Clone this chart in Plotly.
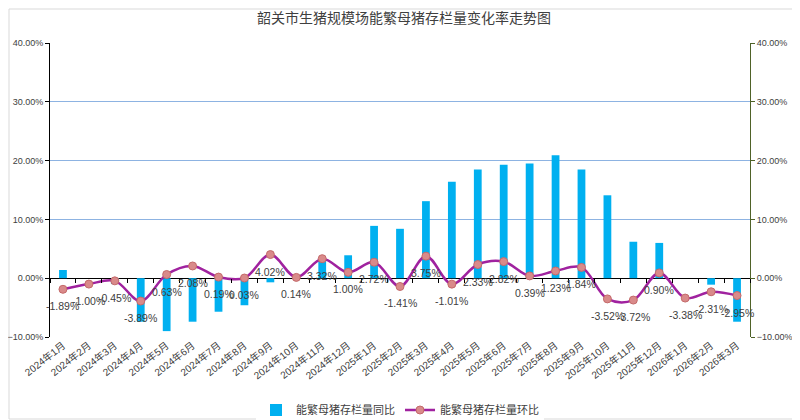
import plotly.graph_objects as go

months = ["2024年1月", "2024年2月", "2024年3月", "2024年4月", "2024年5月", "2024年6月",
          "2024年7月", "2024年8月", "2024年9月", "2024年10月", "2024年11月", "2024年12月",
          "2025年1月", "2025年2月", "2025年3月", "2025年4月", "2025年5月", "2025年6月",
          "2025年7月", "2025年8月", "2025年9月", "2025年10月", "2025年11月", "2025年12月",
          "2026年1月", "2026年2月", "2026年3月"]

# 同比 (bars)
yoy = [1.4, 0.0, -1.0, -7.4, -9.0, -7.4, -5.7, -4.6, -0.7, 0.0, 3.3, 3.9,
       8.9, 8.4, 13.1, 16.4, 18.5, 19.3, 19.5, 20.9, 18.5, 14.1, 6.2, 6.0,
       0.0, -1.1, -7.4]

# 环比 (line, from the data labels)
mom = [-1.89, -1.00, -0.45, -3.89, 0.63, 2.08, 0.19, 0.03, 4.02, 0.14, 3.32, 1.00,
       2.72, -1.41, 3.75, -1.01, 2.33, 2.82, 0.39, 1.23, 1.84, -3.52, -3.72, 0.90,
       -3.38, -2.31, -2.95]

font = "Liberation Sans, Noto Sans CJK SC"
cjk = "Noto Sans CJK SC"
n = len(months)

fig = go.Figure()
fig.add_trace(go.Bar(
    x=months, y=yoy, name="能繁母猪存栏量同比",
    marker=dict(color="#00b0f0", line=dict(width=0)),
    width=0.3,
))
fig.add_trace(go.Scatter(
    x=months, y=mom, name="能繁母猪存栏量环比", xaxis="x2", yaxis="y2",
    mode="lines+markers",
    line=dict(color="#a0229f", width=2.5, shape="spline", smoothing=1),
    marker=dict(size=8, color="#d98a8a", line=dict(color="#c46a6a", width=1)),
    cliponaxis=False,
))

# data labels under each point of the line
for m, v in zip(months, mom):
    fig.add_annotation(x=m, y=v, xref="x", yref="y2", text=f"{v:.2f}%",
                       showarrow=False, yshift=-17,
                       font=dict(size=10.5, color="#404040", family=font))

# page body has an 8px margin, so the figure is 8px smaller than the window
fig.update_layout(
    width=792, height=412,
    margin=dict(l=42, r=50, t=35, b=83),
    paper_bgcolor="white", plot_bgcolor="white",
    font=dict(family=font, color="#404040"),
    title=dict(text="韶关市生猪规模场能繁母猪存栏量变化率走势图", x=0.5, xanchor="center",
               y=1 - 10 / 412, yanchor="middle",
               font=dict(size=14, color="#404040", family=cjk)),
    showlegend=True,
    legend=dict(orientation="h", x=0.5, xanchor="center",
                yref="container", y=10 / 412, yanchor="middle",
                font=dict(size=11, color="#404040", family=cjk),
                traceorder="normal"),
    xaxis=dict(type="category", range=[-0.5, n - 0.5],
               tickangle=-38, tickfont=dict(size=10, color="#404040"),
               showgrid=False, showline=False, ticks="", automargin=False),
    xaxis2=dict(type="category", range=[-0.5, n - 0.5], overlaying="x",
                anchor="free", position=10 / 50,
                showticklabels=False, showgrid=False, showline=False,
                ticks="outside", tickson="boundaries", ticklen=4,
                tickcolor="#000000", automargin=False),
    yaxis=dict(range=[-10, 40], dtick=10, tickformat=".2f", ticksuffix="%",
               tickfont=dict(size=9, color="#404040"), automargin=False,
               showgrid=True, gridcolor="#8db3e2", gridwidth=1,
               zeroline=True, zerolinecolor="#000000", zerolinewidth=1,
               showline=True, linecolor="#000000", linewidth=1,
               ticks="outside", ticklen=4, tickcolor="#000000"),
    yaxis2=dict(range=[-10, 40], dtick=10, tickformat=".2f", ticksuffix="%",
                overlaying="y", side="right", anchor="x", automargin=False,
                tickfont=dict(size=9, color="#404040"),
                showgrid=False, zeroline=False,
                showline=True, linecolor="#4f6228", linewidth=1,
                ticks="outside", ticklen=4, tickcolor="#4f6228"),
)

# outer chart frame
fig.add_shape(type="rect", xref="paper", yref="paper",
              x0=-41 / 700, x1=1 + 49 / 700, y0=-82 / 294, y1=1 + 34 / 294,
              line=dict(color="#d9d9d9", width=1), layer="below")

fig.write_html("out.html")
